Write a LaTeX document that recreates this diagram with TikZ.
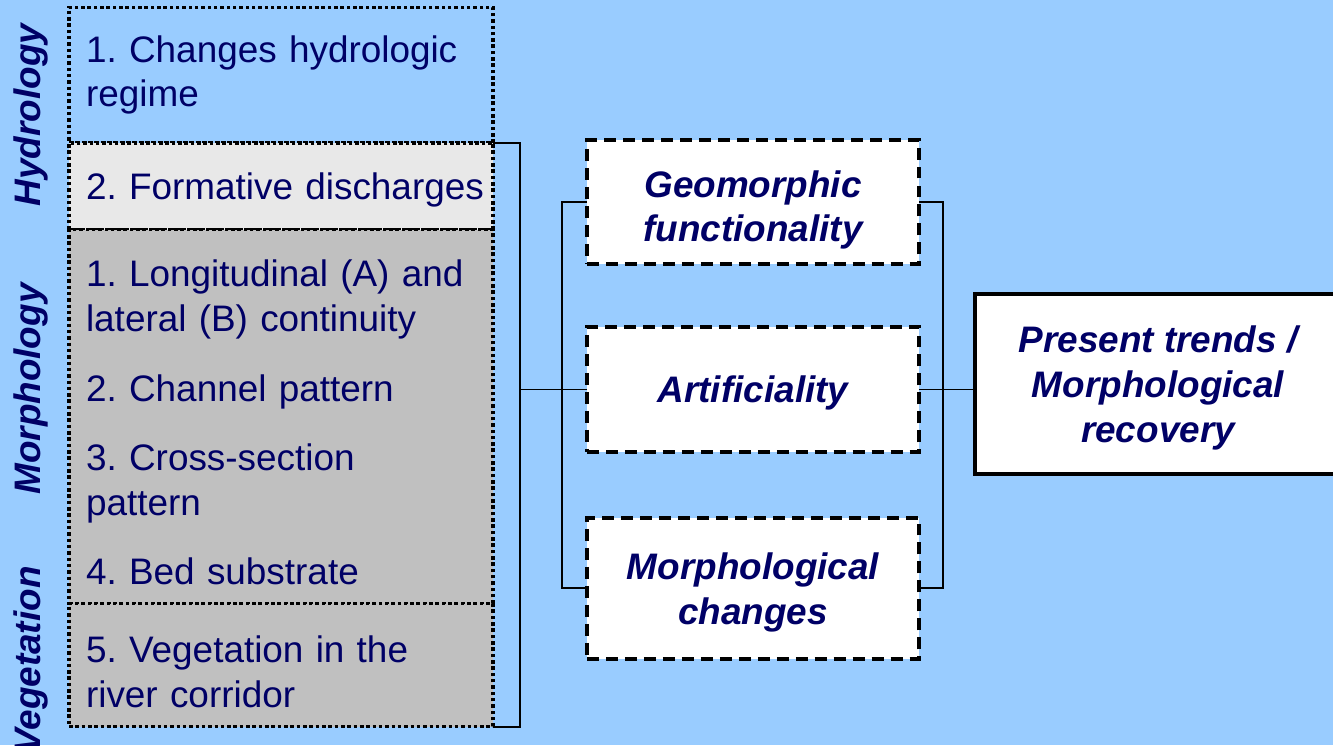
\documentclass[tikz,border=0pt]{standalone}
\usepackage{fontspec}
\setmainfont{Liberation Sans}
\usetikzlibrary{positioning}
\definecolor{skyblue}{RGB}{153,204,255}
\definecolor{navytext}{RGB}{0,0,102}
\definecolor{palegray}{RGB}{232,232,232}
\definecolor{midgray}{RGB}{192,192,192}
\frenchspacing

\begin{document}
\begin{tikzpicture}[
        x=0.02cm, y=-0.02cm,
        font=\fontsize{21}{25.5}\selectfont,
        every node/.style={outer sep=0pt, text=navytext},
        factor/.style={
                draw=black, line width=2pt, dash pattern=on 2pt off 1.6pt,
                text width=7.8cm, inner xsep=0.34cm, align=left
            },
        aspect/.style={
                draw=black, fill=white, line width=2.3pt, dash pattern=on 6.8pt off 4pt,
                minimum width=6.64cm, align=center, text depth=0pt,
                font=\fontsize{21}{25.5}\selectfont\bfseries\itshape
            },
        outcome/.style={
                draw=black, fill=white, line width=2.2pt,
                minimum width=7.32cm, minimum height=3.6cm, align=center, text depth=0pt,
                font=\fontsize{21}{25.5}\selectfont\bfseries\itshape
            },
        sidelabel/.style={rotate=90, font=\fontsize{21}{25.5}\selectfont\bfseries\itshape},
        link/.style={line width=1.1pt, black}
    ]
    \useasboundingbox (0,0) rectangle (1333,745);
    \clip (0,0) rectangle (1333,745);
    \fill[skyblue] (0,0) rectangle (1333,745);

    % left column
    \node[factor, minimum height=2.71cm] (hyd1) at (281,75) {1. Changes hydrologic\\regime};
    \node[factor, fill=palegray, minimum height=1.74cm, below=0pt of hyd1] (hyd2) {\rule{0pt}{19pt}\mbox{2. Formative discharges}};
    \node[factor, fill=midgray, minimum height=7.48cm, below=0pt of hyd2] (morph)
        {\rule{0pt}{22pt}1. Longitudinal (A) and\\lateral (B) continuity\\[14pt]2. Channel pattern\\[14pt]3. Cross-section\\pattern\\[14pt]4. Bed substrate};
    \node[factor, fill=midgray, minimum height=2.46cm, below=0pt of morph] (veg) {\rule{0pt}{23pt}5. Vegetation in the\\river corridor};

    \node[sidelabel] (lhyd) at (31,115) {Hydrology};
    \node[sidelabel] (lmor) at (31,389) {Morphology};
    \node[sidelabel] (lveg) at (31,660) {Vegetation};

    % middle and right
    \node[aspect, minimum height=2.48cm] (geo) at (753,202) {\rule{0pt}{20pt}Geomorphic\\functionality};
    \node[aspect, minimum height=2.5cm, below=1.26cm of geo] (art) {Artificiality};
    \node[aspect, minimum height=2.82cm, below=1.32cm of art] (mch) {Morphological\\changes};
    \node[outcome] (trend) at (1158,384) {Present trends /\\Morphological\\recovery};

    \draw[link] (hyd2.north east) -- ++(27,0) coordinate (lbr) |- (veg.south east);
    \draw[link] (art.west) -- (art.west -| lbr);
    \draw[link] (geo.west) -- ++(-25,0) |- (mch.west);
    \draw[link] (geo.east) -- ++(24,0) |- (mch.east);
    \draw[link] (art.east) -- (art.east -| trend.west);
\end{tikzpicture}
\end{document}
